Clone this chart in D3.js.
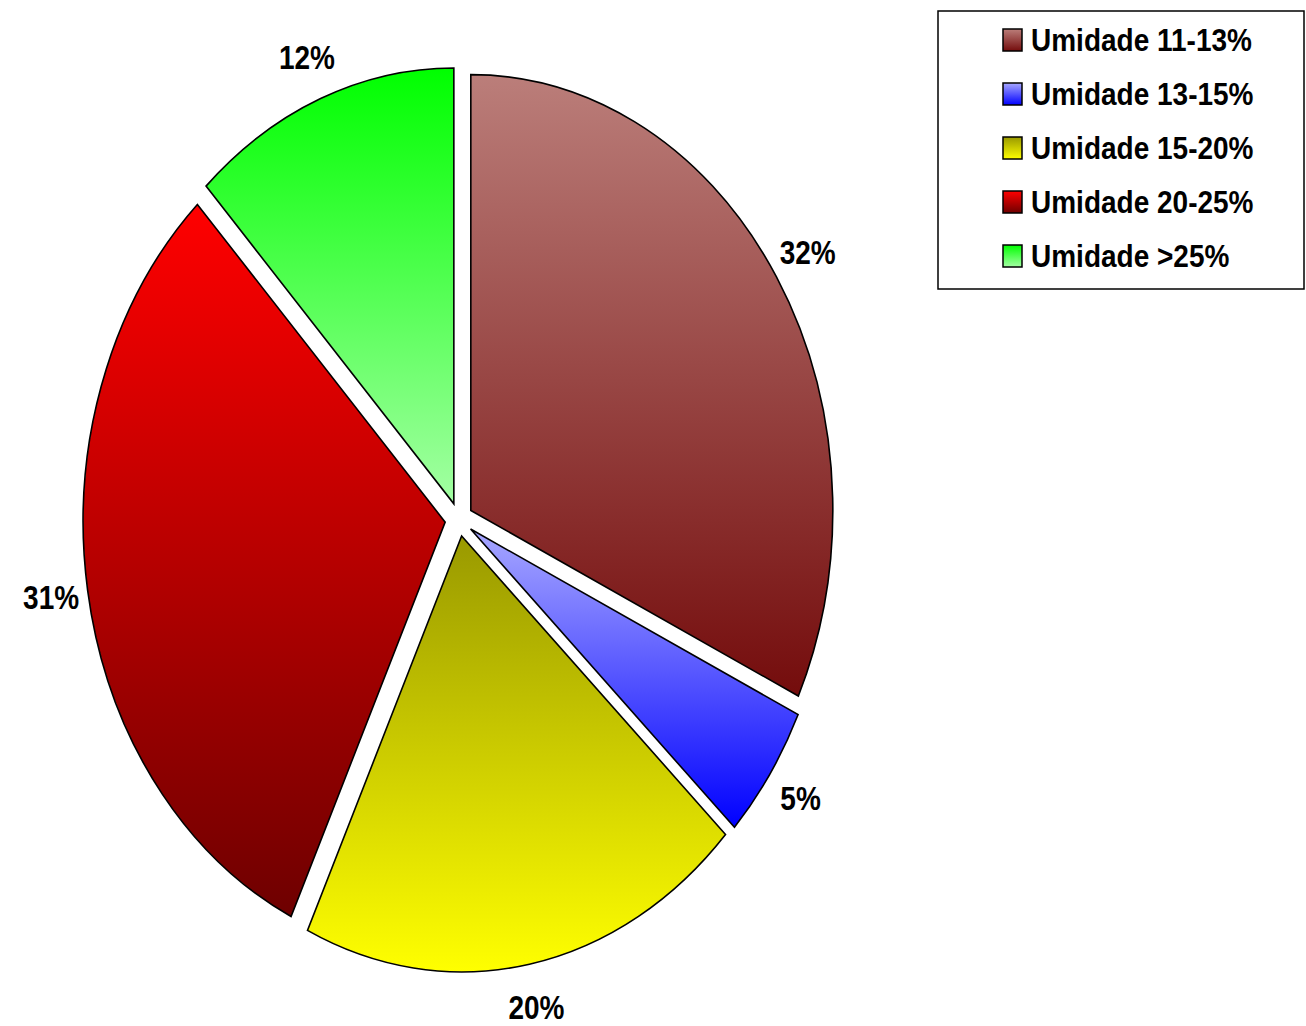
<!DOCTYPE html>
<html>
<head>
<meta charset="utf-8">
<script src="https://cdn.jsdelivr.net/npm/d3@7"></script>
<style>
  html, body { margin: 0; padding: 0; background: #ffffff; }
  svg { display: block; }
  text { font-family: "Liberation Sans", Arial, sans-serif; font-weight: bold; fill: #000; }
</style>
</head>
<body>
<script>
// Moisture classes and their share (%)
const categories = ["Umidade 11-13%", "Umidade 13-15%", "Umidade 15-20%", "Umidade 20-25%", "Umidade >25%"];
const values = [32, 5, 20, 31, 12];
const valueLabels = ["32%", "5%", "20%", "31%", "12%"];
// Vertical gradient stops per slice: [top, bottom]
const gradientTop = ["#bb7e7a", "#a8a8ff", "#999900", "#ff0000", "#00ff00"];
const gradientBottom = ["#740c0c", "#0000ff", "#ffff00", "#6e0000", "#a4ffa4"];

const W = 1306, H = 1026;
const cx = 459, cy = 519.5;
const R = 362;          // pie radius (horizontal)
const stretchY = 1.204; // vertical stretch of the pie
const explode = 14;     // offset of each slice from the centre
const labelR = 413;

const svg = d3.select("body").append("svg")
  .attr("width", W).attr("height", H);

const defs = svg.append("defs");
categories.forEach((c, i) => {
  const g = defs.append("linearGradient")
    .attr("id", "grad" + i)
    .attr("x1", 0).attr("y1", 0).attr("x2", 0).attr("y2", 1);
  g.append("stop").attr("offset", "0%").attr("stop-color", gradientTop[i]);
  g.append("stop").attr("offset", "100%").attr("stop-color", gradientBottom[i]);
});

const pie = d3.pie().sort(null).value(d => d)
  .startAngle(0).endAngle(2 * Math.PI);
const arcs = pie(values);
const arc = d3.arc().innerRadius(0).outerRadius(R);

const pieG = svg.append("g")
  .attr("transform", `translate(${cx},${cy}) scale(1,${stretchY})`);

pieG.selectAll("path.slice")
  .data(arcs)
  .join("path")
  .attr("class", "slice")
  .attr("d", arc)
  .attr("transform", d => {
    const m = (d.startAngle + d.endAngle) / 2;
    return `translate(${explode * Math.sin(m)},${-explode * Math.cos(m)})`;
  })
  .attr("fill", (d, i) => `url(#grad${i})`)
  .attr("stroke", "#000")
  .attr("stroke-width", 1.6)
  .attr("vector-effect", "non-scaling-stroke")
  .attr("stroke-linejoin", "miter");

// Percentage labels outside each slice
svg.selectAll("text.pct")
  .data(arcs)
  .join("text")
  .attr("class", "pct")
  .attr("transform", d => {
    const m = (d.startAngle + d.endAngle) / 2;
    const x = cx + labelR * Math.sin(m);
    const y = cy - labelR * Math.cos(m) * stretchY;
    return `translate(${x},${y}) scale(1,1.2)`;
  })
  .attr("text-anchor", "middle")
  .attr("dominant-baseline", "central")
  .style("font-size", "28px")
  .text((d, i) => valueLabels[i]);

// Legend
const legend = svg.append("g");
legend.append("rect")
  .attr("x", 938).attr("y", 11)
  .attr("width", 366).attr("height", 278)
  .attr("fill", "#fff")
  .attr("stroke", "#000")
  .attr("stroke-width", 1.5);

const rowY = d3.scalePoint().domain(categories).range([40, 256]);

const rows = legend.selectAll("g.row")
  .data(categories)
  .join("g")
  .attr("class", "row")
  .attr("transform", d => `translate(0,${rowY(d)})`);

rows.append("rect")
  .attr("x", 1003).attr("y", -11)
  .attr("width", 19).attr("height", 22)
  .attr("fill", (d, i) => `url(#grad${i})`)
  .attr("stroke", "#000")
  .attr("stroke-width", 1.5);

rows.append("text")
  .attr("transform", "translate(1031,0) scale(1,1.12)")
  .attr("dominant-baseline", "central")
  .style("font-size", "28px")
  .text(d => d);
</script>
</body>
</html>
